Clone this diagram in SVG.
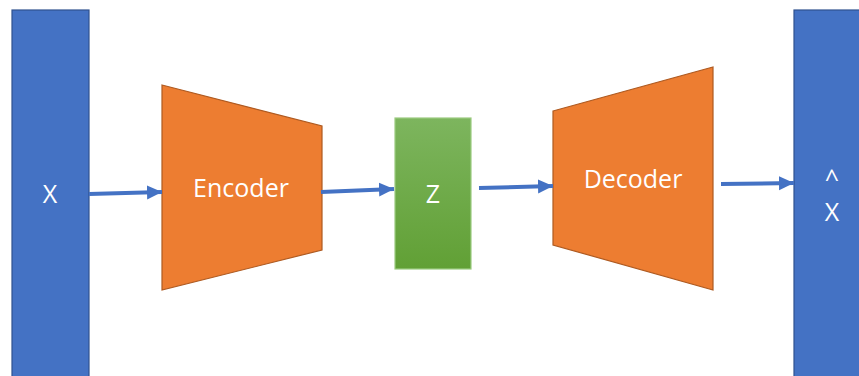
<svg xmlns="http://www.w3.org/2000/svg" width="859" height="376" viewBox="0 0 859 376">
<defs>
<linearGradient id="gz" x1="0" y1="0" x2="0" y2="1">
<stop offset="0" stop-color="#7DB55E"/>
<stop offset="1" stop-color="#61A035"/>
</linearGradient>
<marker id="ah" markerUnits="userSpaceOnUse" markerWidth="16" markerHeight="16" viewBox="0 0 16 16" refX="15" refY="8" orient="auto">
<path d="M0,1 L15,8 L0,15 Z" fill="#4472C4"/>
</marker>
<style>
.blk{fill:#4472C4;stroke:#2F528F;stroke-width:1.2}
.trap{fill:#ED7D31;stroke:#AE5A21;stroke-width:1.2}
.lbl{font-family:"Open Sans","Liberation Sans",sans-serif;font-size:25px;fill:#fff;text-anchor:middle}
.con{stroke:#4472C4;stroke-width:4;fill:none;marker-end:url(#ah)}
</style>
</defs>
<rect width="859" height="376" fill="#fff"/>
<g id="input">
<rect class="blk" x="12" y="10" width="77" height="370"/>
<text class="lbl" x="50" y="203">X</text>
</g>
<g id="encoder">
<polygon class="trap" points="162,85 322,126 322,250 162,290"/>
<text class="lbl" x="241" y="197">Encoder</text>
</g>
<g id="z">
<rect x="395" y="118" width="76" height="151" fill="url(#gz)" stroke="#9CCB80" stroke-width="1.2"/>
<text class="lbl" x="433" y="203">Z</text>
</g>
<g id="decoder">
<polygon class="trap" points="553,111 713,67 713,290 553,245"/>
<text class="lbl" x="633" y="188">Decoder</text>
</g>
<g id="output">
<rect class="blk" x="794" y="10" width="70" height="370"/>
<text class="lbl" x="832" y="188">^</text>
<text class="lbl" x="832" y="221">X</text>
</g>
<g id="connectors">
<line class="con" x1="89" y1="194" x2="162" y2="192"/>
<line class="con" x1="321" y1="192" x2="394" y2="189"/>
<line class="con" x1="479" y1="188" x2="553" y2="186"/>
<line class="con" x1="721" y1="184" x2="794" y2="183"/>
</g>
</svg>
